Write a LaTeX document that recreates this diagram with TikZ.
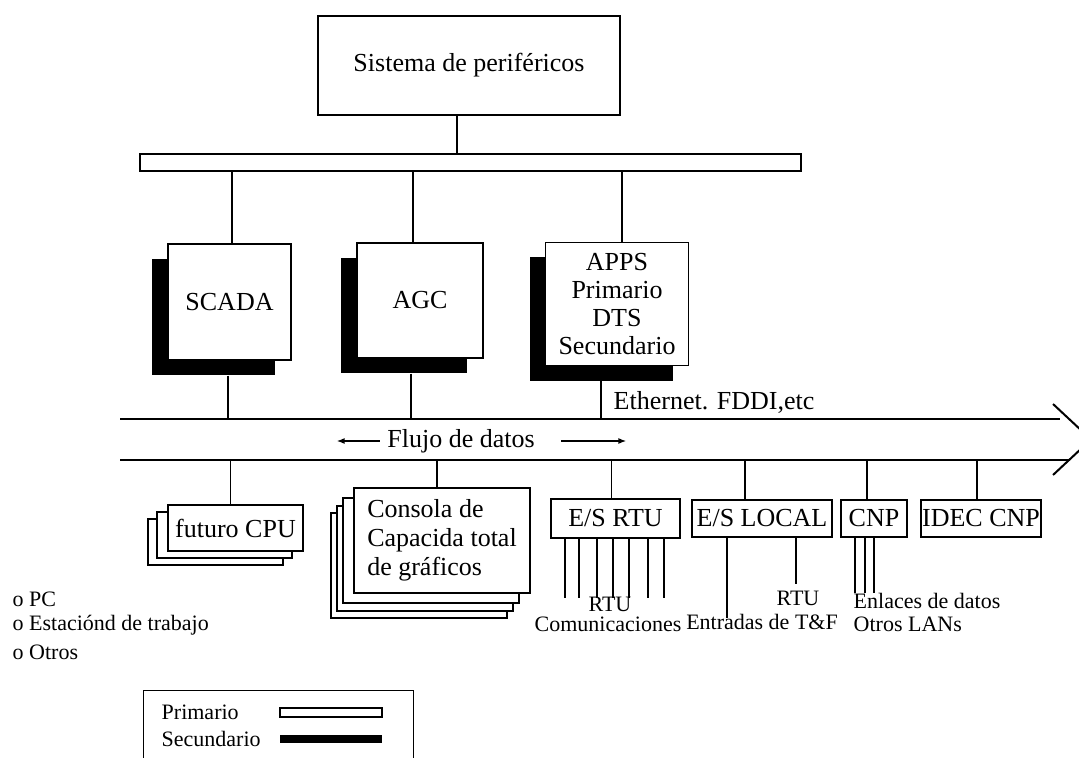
\documentclass[tikz,border=0pt]{standalone}
\usepackage{fontspec}
\setmainfont{Liberation Serif}
\usetikzlibrary{arrows.meta,shadows}

\begin{document}
\begin{tikzpicture}[x=0.5pt,y=-0.5pt,line width=0.7pt,>={Latex[length=4pt]},
  caja/.style={draw,fill=white,inner sep=0pt,font=\fontsize{13}{14}\selectfont},
  txt/.style={inner sep=0pt,font=\fontsize{13}{14}\selectfont},
  etiq/.style={inner sep=0pt,font=\fontsize{11}{13}\selectfont},
  sombra/.style={drop shadow={shadow xshift=-8pt,shadow yshift=-7.5pt,fill=black,opacity=1}}]
  \useasboundingbox (0,0) rectangle (1079,758);
  \clip (0,0) rectangle (1079,758);
  % sistema de perifericos y bus superior
  \node[caja,minimum width=151pt,minimum height=49.5pt] (perif) at (469,65.5) {Sistema de periféricos};
  \node[draw,inner sep=0pt,minimum width=330.5pt,minimum height=8.5pt] (busA) at (470.5,162.5) {};
  \path ([xshift=-6pt]perif.south) coordinate (t);
  \draw (t) -- (t |- busA.north);
  % estaciones (con sombra)
  \node[caja,sombra,minimum width=61.5pt,minimum height=58pt] (scada) at (229.5,302) {SCADA};
  \node[caja,sombra,minimum width=63pt,minimum height=57.5pt] (agc) at (420,300.5) {AGC};
  \node[caja,sombra,align=center,minimum width=71.5pt,minimum height=61.5pt] (apps) at (617,304) {APPS\\Primario\\DTS\\Secundario};
  \foreach \n/\d in {scada/1.25pt,agc/-3.5pt,apps/2.5pt} {
    \path ([xshift=\d]\n.north) coordinate (t);
    \draw (t) -- (t |- busA.south);
  }
  % bus de datos
  \coordinate (busT) at (120,419);
  \coordinate (busB) at (120,460);
  \draw[line width=1pt] (busT) -- (1060,419);
  \draw[line width=1pt] (busB) -- (1070,460);
  \draw[line width=1pt] (1053,404) -- (1091,439.5) -- (1053,475);
  \foreach \n/\d in {scada/-0.75pt,agc/-4.5pt,apps/-8pt} {
    \path ([xshift=\d,yshift=-7.5pt]\n.south) coordinate (t);
    \draw (t) -- (t |- busT);
  }
  \node[txt,anchor=west] (eth) at (613,402) {Ethernet. FDDI,etc};
  \node[txt] (flujo) at (461,441) {Flujo de datos};
  \draw[->] ([xshift=-3.5pt]flujo.west) -- ++(-43,0);
  \draw[->] ([xshift=13pt]flujo.east) -- ++(65,0);
  % equipos conectados abajo
  \node[caja,copy shadow={shadow xshift=-10pt,shadow yshift=-7pt},copy shadow={shadow xshift=-5.5pt,shadow yshift=-3.5pt},
    minimum width=67.5pt,minimum height=23pt] (cpu) at (235.5,528) {futuro CPU};
  \node[caja,align=left,copy shadow={shadow xshift=-11.5pt,shadow yshift=-12.5pt},copy shadow={shadow xshift=-8.5pt,shadow yshift=-9pt},
    copy shadow={shadow xshift=-5.5pt,shadow yshift=-5pt},minimum width=88pt,minimum height=52.5pt,
    font=\fontsize{13}{14.5}\selectfont] (consola) at (442,540.5) {Consola de\\Capacida total\\de gráficos};
  \node[caja,minimum width=64.5pt,minimum height=19.5pt] (esrtu) at (615.5,518.5) {E/S RTU};
  \node[caja,minimum width=70pt,minimum height=18.5pt] (esloc) at (762,518.5) {E/S LOCAL};
  \node[caja,minimum width=33pt,minimum height=18.5pt] (cnp) at (874,518.5) {CNP};
  \node[caja,minimum width=60pt,minimum height=18.5pt] (idec) at (981,518.5) {IDEC CNP};
  \foreach \n/\d in {cpu/-2.5pt,consola/-2.5pt,esrtu/-2pt,esloc/-8.5pt,cnp/-3.5pt,idec/-2pt} {
    \path ([xshift=\d]\n.north) coordinate (t);
    \draw (t) -- (t |- busB);
  }
  % lineas de salida
  \foreach \x in {565,579,597,613,629,648,664} \draw (esrtu.south -| \x,0) -- ++(0,59);
  \draw (esloc.south -| 727,0) -- ++(0,80);
  \draw (esloc.south -| 796,0) -- ++(0,46);
  \foreach \x in {855,865,874} \draw (cnp.south -| \x,0) -- ++(0,55);
  \node[etiq] (rtuA) at (610,604) {RTU};
  \node[etiq,anchor=east] (comun) at (682,624) {Comunicaciones};
  \node[etiq] (rtuB) at (798,598) {RTU};
  \node[etiq] (entr) at (762,622) {Entradas de T\&F};
  \node[etiq,anchor=west] (enl) at (853,601) {Enlaces de datos};
  \node[etiq,anchor=west] (otrosL) at (853,624) {Otros LANs};
  % lista a la izquierda
  \node[etiq,anchor=west] (pc) at (12,599) {o PC};
  \node[etiq,anchor=west] (est) at (12,625) {o Estaciónd de trabajo};
  \node[etiq,anchor=west] (otr) at (12,652) {o Otros};
  % leyenda
  \node[draw,inner sep=0pt,minimum width=135pt,minimum height=40pt,anchor=north west] (ley) at (143,690) {};
  \node[etiq,anchor=west] (prim) at (161,712) {Primario};
  \node[etiq,anchor=west] (sec) at (161,739) {Secundario};
  \node[draw,inner sep=0pt,minimum width=51pt,minimum height=4.5pt] (barP) at (331,712.5) {};
  \node[fill=black,inner sep=0pt,minimum width=51pt,minimum height=4pt] (barS) at (331,739) {};
\end{tikzpicture}
\end{document}
